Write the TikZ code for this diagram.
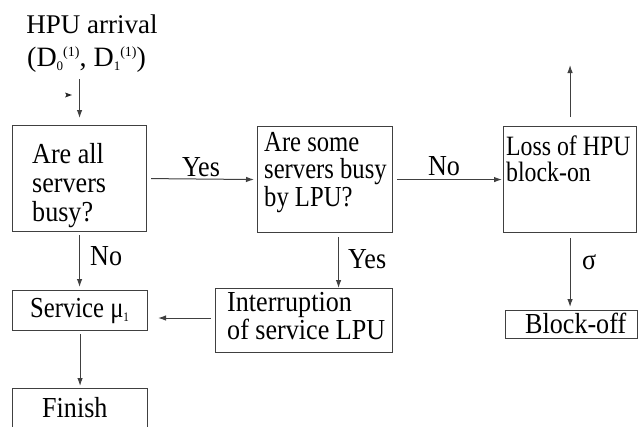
\documentclass[tikz,border=0pt]{standalone}
\usepackage{fontspec}
\setmainfont{Liberation Serif}
\newfontfamily\boxfont{Liberation Serif}[FakeStretch=0.9]
\newfontfamily\boxfontnarrow{Liberation Serif}[FakeStretch=0.85]
\usetikzlibrary{arrows.meta,calc}

\newcommand{\lowidx}[1]{\raisebox{-4pt}{\fontsize{13}{13}\selectfont #1}}
\newcommand{\highidx}[1]{\raisebox{10pt}{\fontsize{14}{14}\selectfont #1}}

\begin{document}
\begin{tikzpicture}[x=1pt,y=-1pt,
  box/.style={draw=black!75, line width=1.1pt, inner sep=0pt, anchor=north west},
  txt/.style={inner sep=0pt, align=left, font=\boxfont\fontsize{29}{28}\selectfont},
  lbl/.style={inner sep=0pt, font=\boxfont\fontsize{29}{28}\selectfont},
  narrow/.style={font=\boxfontnarrow\fontsize{29}{27}\selectfont},
  head/.style={inner sep=0pt, font=\fontsize{27}{28}\selectfont},
  arr/.style={draw=black!75, line width=1pt, -{Latex[length=8pt,width=5.5pt]}}
]
\path[use as bounding box] (0,0) rectangle (640,426);
\clip (0,0) rectangle (640,426);

% arrival label
\node[head, anchor=base] (hpu) at (92,33) {HPU arrival};
\node[head, anchor=base west, font=\fontsize{28}{28}\selectfont] (rates) at (27,66)
  {(D\lowidx{0}\highidx{(1)}, D\lowidx{1}\highidx{(1)})};

% boxes
\node[box, minimum width=134pt, minimum height=106pt] (q1) at (12,125) {};
\node[box, minimum width=135pt, minimum height=106pt] (q2) at (257,126) {};
\node[box, minimum width=133pt, minimum height=106pt] (loss) at (503,126) {};
\node[box, minimum width=135pt, minimum height=40pt] (serv) at (12,290) {};
\node[box, minimum width=177pt, minimum height=64pt] (intr) at (215,288) {};
\node[box, minimum width=132pt, minimum height=28pt] (boff) at (505,310) {};
\node[box, minimum width=135pt, minimum height=60pt] (fin) at (12,388) {};

% box texts
\node[txt, anchor=north west, font=\boxfont\fontsize{29}{29}\selectfont] (q1t) at (32,143) {Are all\\servers\\busy?};
\node[txt, anchor=north west, font=\boxfontnarrow\fontsize{29}{27.5}\selectfont] (q2t) at (264,132) {Are some\\servers busy\\by LPU?};
\node[txt, anchor=north west, font=\boxfontnarrow\fontsize{28}{26}\selectfont] (losst) at (506,136) {Loss of HPU\\block-on};
\node[txt, anchor=north west] (intrt) at (227,292) {Interruption\\of service LPU};
\node[lbl, narrow, anchor=base west] (servt) at (30,317) {Service μ\lowidx{1}};
\node[lbl, anchor=base west] (bofft) at (525,333) {Block-off};
\node[lbl, anchor=base west] (fint) at (42,417) {Finish};

% stray marker beside the entry arrow
\fill[black!85] (65,92.5) -- (72,95) -- (65,97.5) -- (66.5,95) -- cycle;

% connectors
\coordinate (up) at (569,65);
\coordinate (ydown) at ($(q2.south)+(13.5,0)$);
\draw[arr, shorten <=7pt, shorten >=7pt] (q1.north |- rates.south) -- (q1.north);
\draw[arr, shorten <=4pt, shorten >=3pt] (q1.east) -- (q2.west);
\draw[arr, shorten <=4pt, shorten >=1pt] (q2.east) -- (loss.west);
\draw[arr, shorten <=9pt] (loss.north) -- (loss.north |- up);
\draw[arr, shorten <=5pt, shorten >=3pt] (loss.south) -- (loss.south |- boff.north);
\draw[arr, shorten <=3pt, shorten >=3pt] (q1.south) -- (q1.south |- serv.north);
\draw[arr, shorten <=4pt] (ydown) -- (ydown |- intr.north);
\draw[arr, shorten <=4pt, shorten >=10pt] (intr.west |- 0,318) -- (serv.east |- 0,318);
\draw[arr, shorten <=3pt, shorten >=2pt] (serv.south) -- (serv.south |- fin.north);

% connector labels
\node[lbl, anchor=base] (yes1) at (201,176) {Yes};
\node[lbl, anchor=base] (no1) at (444,175) {No};
\node[lbl, anchor=base west] (no2) at (90,265) {No};
\node[lbl, anchor=base west] (yes2) at (348,268) {Yes};
\node[lbl, anchor=base west] (sig) at (582,269) {σ};
\end{tikzpicture}
\end{document}
